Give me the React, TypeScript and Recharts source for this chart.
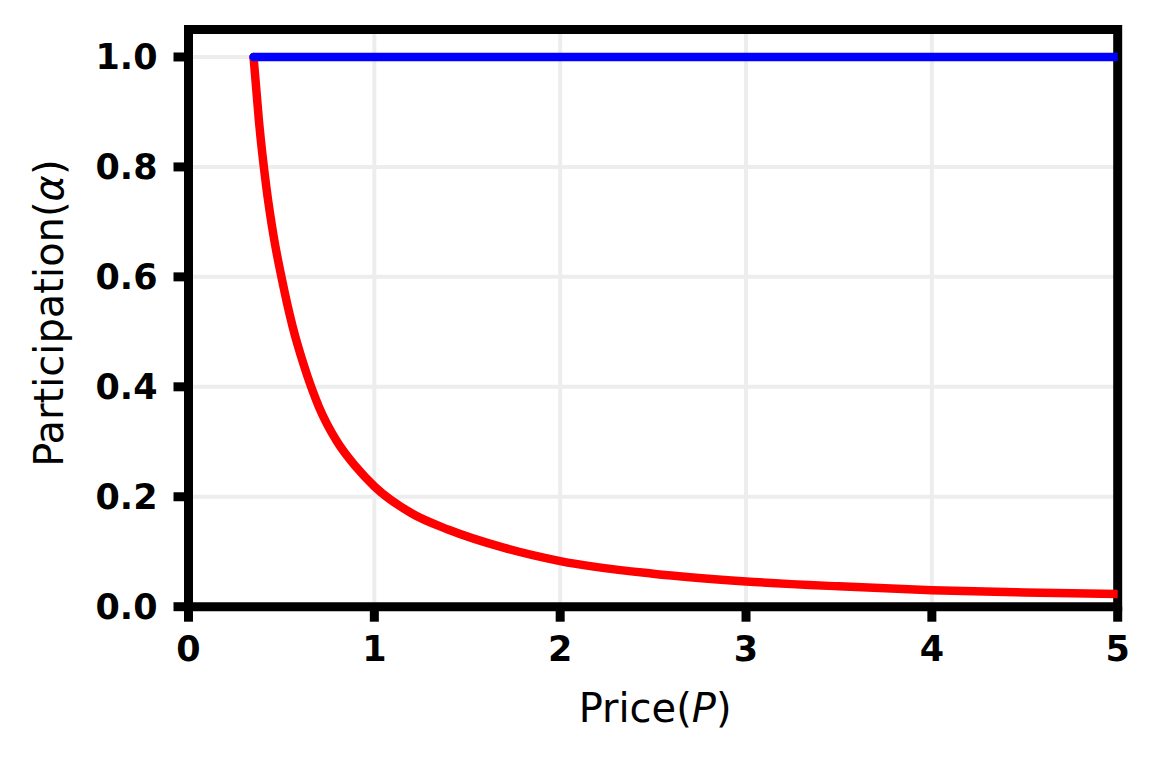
import { LineChart, Line, XAxis, YAxis, CartesianGrid, ReferenceArea } from "recharts";

// red curve: participation vs price
const redPrice = [0.35, 0.38, 0.42, 0.46, 0.5, 0.56, 0.62, 0.7, 0.8, 0.9, 1.0, 1.2, 1.4, 1.7, 2.0, 2.5, 3.0, 3.5, 4.0, 4.5, 5.0];
const redAlpha = [1.0, 0.88, 0.76, 0.67, 0.6, 0.51, 0.44, 0.365, 0.3, 0.255, 0.219, 0.17, 0.14, 0.107, 0.083, 0.06, 0.046, 0.037, 0.03, 0.026, 0.023];

// blue line: full participation
const bluePrice = [0.35, 5.0];
const blueAlpha = [1.0, 1.0];

const xTicks = [0, 1, 2, 3, 4, 5];
const yTicks = [0, 0.2, 0.4, 0.6, 0.8, 1.0];

const redData = redPrice.map((p, i) => ({ p, a: redAlpha[i] }));
const blueData = bluePrice.map((p, i) => ({ p, a: blueAlpha[i] }));

const FONT = "'DejaVu Sans', sans-serif";
const tickStyle = { fontFamily: FONT, fontSize: 35, fontWeight: 700, fill: "#000" };

function XLabel(props: any) {
  const vb = props.viewBox;
  return (
    <text x={vb.x + vb.width / 2 + 2} y={vb.y + 115} textAnchor="middle" fontFamily={FONT} fontSize={40} fill="#000">
      Price(<tspan fontStyle="italic">P</tspan>)
    </text>
  );
}

function YLabel(props: any) {
  const vb = props.viewBox;
  const cx = 55;
  const cy = vb.y + vb.height / 2 - 5;
  return (
    <text x={cx} y={cy} transform={`rotate(-90, ${cx}, ${cy})`} textAnchor="middle" fontFamily={FONT} fontSize={40} fill="#000">
      Participation(<tspan fontStyle="italic">α</tspan>)
    </text>
  );
}

export default function App() {
  return (
    <LineChart width={1145} height={745} margin={{ top: 21.5, right: 35.3, bottom: 0, left: 0 }}>
      <CartesianGrid stroke="#ededed" strokeWidth={4} />
      <XAxis
        dataKey="p"
        type="number"
        domain={[0, 5]}
        ticks={xTicks}
        allowDataOverflow
        axisLine={false}
        tickLine={{ stroke: "#000", strokeWidth: 9 }}
        tickSize={15}
        tickMargin={14}
        tick={tickStyle}
        height={146.3}
        label={<XLabel />}
      />
      <YAxis
        dataKey="a"
        type="number"
        domain={[0, 1.05]}
        ticks={yTicks}
        allowDataOverflow
        axisLine={false}
        tickLine={{ stroke: "#000", strokeWidth: 9 }}
        tickSize={15}
        tickMargin={16}
        tick={tickStyle}
        tickFormatter={(v: number) => v.toFixed(1)}
        width={180.5}
        label={<YLabel />}
      />
      <Line data={redData} dataKey="a" type="monotone" stroke="#ff0000" strokeWidth={8.5} dot={false} strokeLinecap="round" isAnimationActive={false} />
      <Line data={blueData} dataKey="a" type="linear" stroke="#0000ff" strokeWidth={8.5} dot={false} strokeLinecap="round" isAnimationActive={false} />
      <ReferenceArea x1={0} x2={5} y1={0} y2={1.05} fill="none" fillOpacity={0} stroke="#000" strokeWidth={9} ifOverflow="visible" />
    </LineChart>
  );
}
